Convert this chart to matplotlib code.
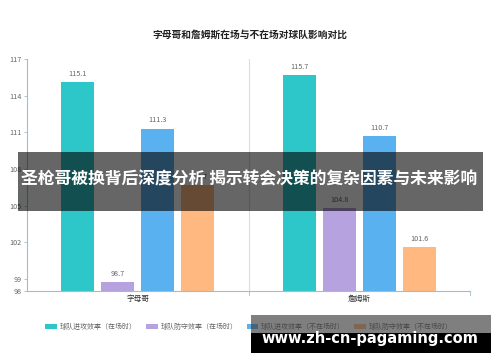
import matplotlib
matplotlib.use("Agg")
import matplotlib.pyplot as plt
import numpy as np
from matplotlib.patches import Rectangle

plt.rcParams["font.family"] = ["Noto Sans CJK SC", "DejaVu Sans"]

players = ["字母哥", "詹姆斯"]
series_names = [
    "球队进攻效率（在场时）",
    "球队防守效率（在场时）",
    "球队进攻效率（不在场时）",
    "球队防守效率（不在场时）",
]
off_on = [115.1, 115.7]
def_on = [98.7, 104.8]
off_off = [111.3, 110.7]
def_off = [106.7, 101.6]
yticks = [98, 99, 102, 105, 108, 111, 114, 117]

colors = ["#2ec7c9", "#b6a2de", "#5ab1ef", "#ffb980"]
axis_color = "#9dbfcc"
series = [off_on, def_on, off_off, def_off]

fig = plt.figure(figsize=(5.0, 3.62), dpi=100)
ax = fig.add_axes([0.054, 0.196, 0.886, 0.641])

x = np.arange(len(players))
step = 0.181
width = 0.15
for i, (vals, name, c) in enumerate(zip(series, series_names, colors)):
    bars = ax.bar(x + (i - 1.5) * step, np.array(vals) - 98, width, bottom=98,
                  color=c, label=name, zorder=2)
    for b, v in zip(bars, vals):
        ax.text(b.get_x() + b.get_width() / 2, v + 0.35, f"{v}", ha="center",
                va="bottom", fontsize=5.2, color="#666666")

ax.set_xlim(-0.5, 1.5)
ax.set_ylim(98, 117)
ax.set_yticks(yticks)
ax.set_yticklabels([str(t) for t in yticks])
ax.set_xticks(x)
ax.set_xticklabels(players)
ax.tick_params(axis="y", labelsize=5.2, labelcolor="#666666", color=axis_color,
               length=2.5, width=0.6, pad=1.5)
ax.tick_params(axis="x", labelsize=5.5, labelcolor="#333333", length=0, pad=3)
for sp in ["top", "right"]:
    ax.spines[sp].set_visible(False)
for sp in ["left", "bottom"]:
    ax.spines[sp].set_color(axis_color)
    ax.spines[sp].set_linewidth(0.8)
for xv in [0.5, 1.5]:
    ax.axvline(xv, color="#d5e0e5", lw=0.8, zorder=1)
    ax.plot([xv, xv], [98, 97.7], color=axis_color, lw=0.6, clip_on=False)

fig.text(0.5, 0.903, "字母哥和詹姆斯在场与不在场对球队影响对比", ha="center",
         va="center", fontsize=7, fontweight="bold", color="#222222")

leg = fig.legend(loc="center", bbox_to_anchor=(0.498, 0.097), ncol=4, frameon=False,
                 fontsize=5.0, handlelength=1.7, handleheight=0.9, columnspacing=1.3,
                 handletextpad=0.4)
for t in leg.get_texts():
    t.set_color("#666666")

# overlay banner
fig.patches.append(Rectangle((18 / 500, 1 - 211 / 362), 465 / 500, 59 / 362,
                             transform=fig.transFigure, facecolor="black", alpha=0.6,
                             edgecolor="none", zorder=10))
fig.text(0.499, 1 - 180 / 362, "圣枪哥被换背后深度分析 揭示转会决策的复杂因素与未来影响",
         ha="center", va="center", fontsize=12.1, fontweight="bold", color="white",
         zorder=11)

# watermark
fig.patches.append(Rectangle((251 / 500, 1 - 333 / 362), 240 / 500, 18 / 362,
                             transform=fig.transFigure, facecolor="#3a3a3a", alpha=0.65,
                             edgecolor="none", zorder=10))
fig.patches.append(Rectangle((251 / 500, 1 - 353 / 362), 240 / 500, 20 / 362,
                             transform=fig.transFigure, facecolor="black",
                             edgecolor="none", zorder=10))
fig.text(370 / 500, 1 - 339 / 362, "www.zh-cn-pagaming.com", ha="center", va="center",
         fontsize=10.5, fontweight="bold", color="white", family="DejaVu Sans",
         zorder=11)

fig.savefig("out.png", dpi=100)
